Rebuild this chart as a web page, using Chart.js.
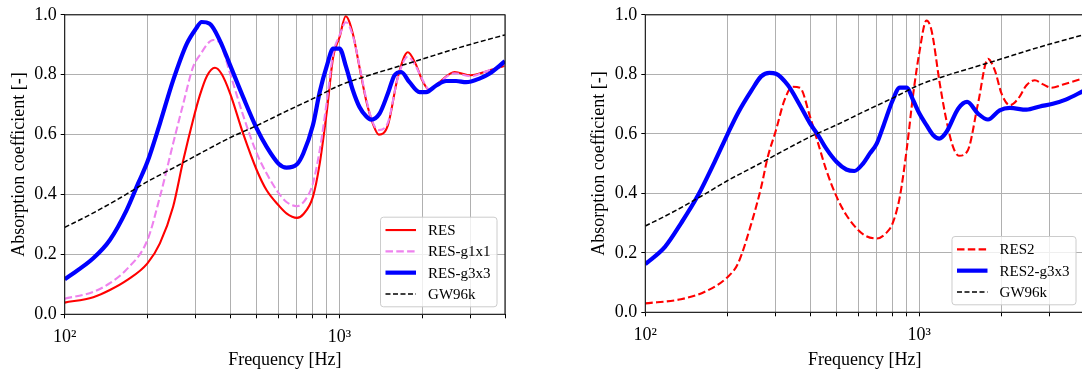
<!DOCTYPE html>
<html><head><meta charset="utf-8">
<script src="https://cdn.jsdelivr.net/npm/chart.js@4.4.0/dist/chart.umd.min.js"></script>
<style>
html,body{margin:0;padding:0;background:#fff;overflow:hidden;width:1082px;height:371px;position:relative;}
.panel{position:absolute;top:0;height:371px;width:540px;}
#p1{left:0;}
#p2{left:580px;}
canvas{display:block;}
</style></head><body>
<div class="panel" id="p1"><canvas id="c1" width="540" height="371"></canvas></div>
<div class="panel" id="p2"><canvas id="c2" width="540" height="371"></canvas></div>
<script>
// ---------- data ----------
const xTickValues = [100,200,300,400,500,600,700,800,900,1000,2000,3000,4000];
const xTickLabels = {100:'10\u00B2', 1000:'10\u00B3'};
const yTickValues = [0,0.2,0.4,0.6,0.8,1.0];
const yTickLabels = ['0.0','0.2','0.4','0.6','0.8','1.0'];

// left panel
const resFreq = [100,127,146,168,200,222,248,270,293,310,329,352,372,400,446,500,543,600,641,700,738,800,847,900,948,1000,1053,1118,1182,1250,1322,1390,1499,1630,1772,1890,2000,2125,2311,2620,3000,3505,4000];
const resVals = [0.039,0.057,0.081,0.113,0.17,0.237,0.359,0.514,0.648,0.73,0.795,0.823,0.803,0.737,0.603,0.481,0.414,0.364,0.337,0.322,0.334,0.392,0.503,0.681,0.859,0.925,0.995,0.937,0.825,0.714,0.637,0.60,0.631,0.792,0.875,0.837,0.781,0.748,0.775,0.809,0.798,0.814,0.83];

const g1x1Freq = [100,127,146,168,200,222,248,270,293,310,347,367,400,446,500,543,600,641,700,757,800,847,900,948,1000,1055,1118,1182,1250,1322,1390,1499,1630,1772,1890,2000,2125,2311,2620,3000,3505,4000];
const g1x1Vals = [0.052,0.075,0.104,0.15,0.248,0.392,0.57,0.703,0.825,0.865,0.916,0.905,0.803,0.664,0.537,0.47,0.405,0.375,0.361,0.387,0.437,0.548,0.714,0.87,0.931,0.975,0.93,0.83,0.72,0.64,0.615,0.64,0.79,0.86,0.83,0.785,0.75,0.775,0.805,0.795,0.815,0.83];

const g3x3Freq = [100,127,146,168,185,200,222,248,278,300,315,337,367,400,446,500,543,600,641,700,738,800,847,900,948,1000,1057,1118,1182,1250,1304,1398,1499,1585,1676,1797,1954,2067,2248,2444,2657,2888,3228,3505,4000];
const g3x3Vals = [0.117,0.187,0.248,0.348,0.437,0.509,0.637,0.781,0.903,0.953,0.976,0.97,0.914,0.831,0.725,0.62,0.559,0.503,0.49,0.501,0.537,0.631,0.742,0.831,0.887,0.887,0.825,0.748,0.692,0.661,0.65,0.67,0.737,0.798,0.809,0.775,0.742,0.742,0.764,0.779,0.779,0.775,0.787,0.803,0.845];

// right panel
const res2Freq = [100,135,165,200,218,244,265,280,300,322,345,367,400,428,458,500,542,600,641,700,759,800,850,900,952,1000,1064,1110,1190,1258,1330,1398,1507,1640,1784,1890,2000,2145,2300,2467,2646,2838,3043,3356,4000];
const res2Vals = [0.030,0.044,0.069,0.119,0.164,0.299,0.421,0.522,0.612,0.712,0.758,0.755,0.656,0.567,0.478,0.388,0.327,0.276,0.256,0.248,0.267,0.299,0.388,0.545,0.735,0.869,0.981,0.947,0.768,0.645,0.556,0.526,0.545,0.701,0.852,0.813,0.735,0.696,0.718,0.763,0.78,0.766,0.755,0.766,0.787];

const res2g3x3Freq = [100,118,135,156,179,200,218,244,265,284,300,332,367,400,428,458,500,542,580,624,661,700,742,800,850,900,952,1000,1064,1126,1184,1258,1390,1497,1640,1784,1968,2145,2467,2760,3076,3431,4000];
const res2g3x3Vals = [0.162,0.22,0.299,0.394,0.505,0.6,0.67,0.745,0.793,0.805,0.802,0.763,0.696,0.634,0.595,0.55,0.505,0.48,0.475,0.5,0.534,0.567,0.629,0.712,0.755,0.755,0.712,0.67,0.629,0.595,0.584,0.606,0.685,0.707,0.668,0.648,0.679,0.687,0.681,0.692,0.701,0.715,0.745];

// reference curve (both panels)
const gwFreq = [100,125,160,200,250,315,400,500,630,800,1000,1250,1600,2000,2500,3150,4000];
const gwVals = [0.29,0.335,0.39,0.443,0.49,0.54,0.59,0.63,0.675,0.72,0.764,0.795,0.825,0.852,0.88,0.907,0.933];

// ---------- helpers ----------
const FONT = '"Liberation Serif", "Times New Roman", serif';
function pts(f, v){ const n=Math.min(f.length,v.length); const a=[]; for(let i=0;i<n;i++) a.push({x:f[i],y:v[i]}); return a; }

function ds(label, f, v, color, width, dash){
  return {label, data: pts(f,v), borderColor: color, backgroundColor: color, borderWidth: width,
    borderDash: dash || [], pointRadius: 0, fill: false, cubicInterpolationMode: 'monotone'};
}

const framePlugin = {
  id: 'frameLegend',
  afterDatasetsDraw(chart){
    const ca = chart.chartArea, ctx = chart.ctx;
    ctx.save();
    ctx.strokeStyle = '#111'; ctx.lineWidth = 1.1;
    ctx.strokeRect(ca.left, ca.top, ca.right-ca.left, ca.bottom-ca.top);
    ctx.restore();
  },
  afterDraw(chart){
    const ca = chart.chartArea, ctx = chart.ctx;
    const sets = chart.data.datasets;
    ctx.save();
    ctx.font = '15px ' + FONT;
    let maxW = 0;
    sets.forEach(d => { maxW = Math.max(maxW, ctx.measureText(d.label).width); });
    const rowH = 21.3, padV = 2.2;
    const w = 48 + maxW + 6, h = padV*2 + sets.length*rowH;
    const x = ca.right - 8 - w, y = ca.bottom - 7.5 - h;
    ctx.beginPath();
    if (ctx.roundRect) ctx.roundRect(x, y, w, h, 3); else ctx.rect(x, y, w, h);
    ctx.fillStyle = 'rgba(255,255,255,0.8)'; ctx.fill();
    ctx.strokeStyle = '#cccccc'; ctx.lineWidth = 1; ctx.stroke();
    sets.forEach((d,i) => {
      const cy = y + padV + rowH*(i+0.5);
      ctx.beginPath();
      ctx.setLineDash(d.borderDash || []);
      ctx.strokeStyle = d.borderColor; ctx.lineWidth = d.borderWidth;
      ctx.moveTo(x+5, cy); ctx.lineTo(x+35.5, cy); ctx.stroke();
      ctx.setLineDash([]);
      ctx.fillStyle = '#000'; ctx.textBaseline = 'middle'; ctx.textAlign = 'left';
      ctx.fillText(d.label, x+47.6, cy+1);
    });
    ctx.restore();
  }
};

function makeChart(id, datasets, geo){
  const n = datasets.length;
  datasets.forEach((d,i) => { d.order = n - i; });
  return new Chart(document.getElementById(id), {
    type: 'line',
    data: { datasets },
    plugins: [framePlugin],
    options: {
      responsive: false, animation: false, devicePixelRatio: 1,
      layout: { padding: { left: 0, top: geo.top, right: geo.right, bottom: 0 } },
      plugins: { legend: { display: false }, tooltip: { enabled: false } },
      scales: {
        x: {
          type: 'logarithmic', min: 100, max: 4000,
          afterBuildTicks: s => { s.ticks = xTickValues.map(v => ({value: v})); },
          afterFit: s => { s.height = geo.xHeight; },
          ticks: { autoSkip: false, maxRotation: 0, minRotation: 0, padding: 8,
                   color: '#000', font: { family: FONT, size: 18 },
                   callback: v => xTickLabels[v] || '' },
          grid: { color: '#b0b0b0', lineWidth: 1, tickColor: '#000', tickLength: 4, drawTicks: true },
          border: { display: false },
          title: { display: true, text: 'Frequency [Hz]', color: '#000',
                   font: { family: FONT, size: 18 }, padding: { top: 3, bottom: 0 } }
        },
        y: {
          type: 'linear', min: 0, max: 1,
          afterBuildTicks: s => { s.ticks = yTickValues.map(v => ({value: v})); },
          afterFit: s => { s.width = geo.yWidth; },
          ticks: { autoSkip: false, padding: 4, color: '#000', font: { family: FONT, size: 18 },
                   callback: (v, i) => yTickLabels[yTickValues.indexOf(Math.round(v*10)/10)] },
          grid: { color: '#b0b0b0', lineWidth: 1, tickColor: '#000', tickLength: 4, drawTicks: true },
          border: { display: false },
          title: { display: true, text: 'Absorption coefficient [-]', color: '#000',
                   font: { family: FONT, size: 18 }, padding: { top: 8, bottom: 0 } }
        }
      }
    }
  });
}

makeChart('c1', [
  ds('RES', resFreq, resVals, '#ff0000', 2.1),
  ds('RES-g1x1', g1x1Freq, g1x1Vals, '#ee82ee', 2.1, [7.5,3.3]),
  ds('RES-g3x3', g3x3Freq, g3x3Vals, '#0000ff', 4.2),
  ds('GW96k', gwFreq, gwVals, '#000000', 1.5, [5,2.5])
], { top: 14.3, right: 35, xHeight: 56.7, yWidth: 64.7 });

makeChart('c2', [
  ds('RES2', res2Freq, res2Vals, '#ff0000', 2.1, [7.5,3.3]),
  ds('RES2-g3x3', res2g3x3Freq, res2g3x3Vals, '#0000ff', 4.2),
  ds('GW96k', gwFreq, gwVals, '#000000', 1.5, [5,2.5])
], { top: 14.3, right: 36, xHeight: 58.7, yWidth: 65.3 });
</script></body></html>
